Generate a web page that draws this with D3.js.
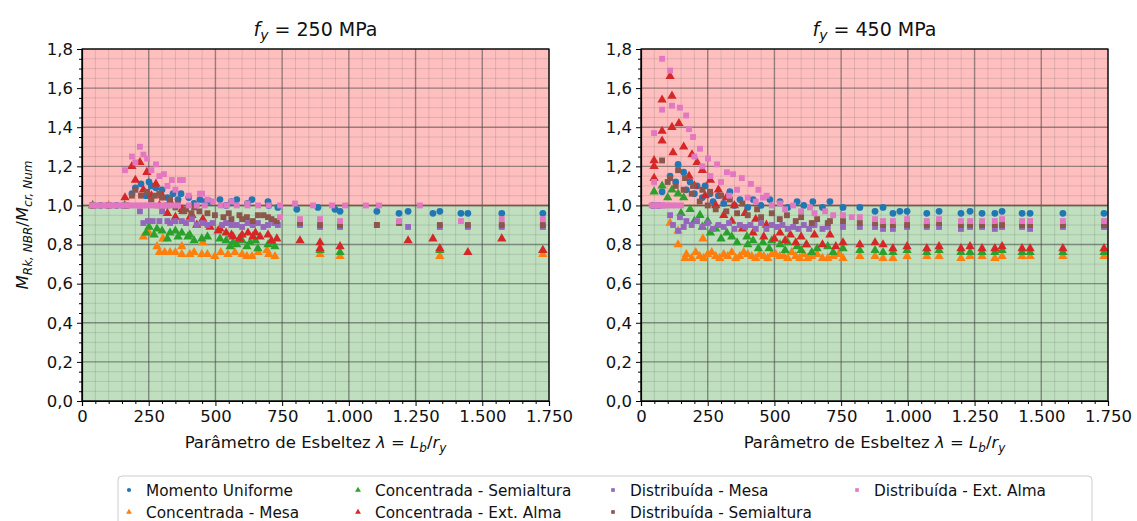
<!DOCTYPE html>
<html>
<head>
<meta charset="utf-8">
<script src="https://cdn.jsdelivr.net/npm/d3@7"></script>
<style>
  body { margin: 0; background: #fff; }
  svg { font-family: "DejaVu Sans", sans-serif; }
</style>
</head>
<body>
<div id="viz"></div>
<script>
const width = 1137;
const height = 521;
const yTop = 49, yBottom = 401;
const panels = [
  {x0: 82, x1: 549, title: '250'},
  {x0: 641, x1: 1108, title: '450'}
];

const xTicks = [0, 250, 500, 750, 1000, 1250, 1500, 1750];
const yTicks = [0, 0.2, 0.4, 0.6, 0.8, 1.0, 1.2, 1.4, 1.6, 1.8];

const seriesNames = ['Momento Uniforme', 'Concentrada - Mesa', 'Concentrada - Semialtura',
  'Concentrada - Ext. Alma', 'Distribuída - Mesa', 'Distribuída - Semialtura', 'Distribuída - Ext. Alma'];
const seriesColors = ['#1f77b4', '#ff7f0e', '#2ca02c', '#d62728', '#9467bd', '#8c564b', '#e377c2'];
const seriesShapes = ['circle', 'triangle', 'triangle', 'triangle', 'square', 'square', 'square'];

// fy = 250 MPa
const momento250 = [[40,1.0],[70,1.0],[100,1.0],[130,1.0],[160,1.0],[187,1.06],[200,1.09],[221,1.11],[240,1.05],[251,1.12],[260,1.10],[277,1.09],[300,1.08],[320,1.04],[341,1.06],[360,1.03],[371,1.06],[400,1.04],[420,1.01],[442,1.03],[460,1.02],[480,1.02],[517,1.03],[540,1.0],[560,1.02],[580,1.03],[620,1.01],[637,1.03],[697,1.02],[700,1.0],[734,0.99],[805,0.98],[884,0.99],[948,0.98],[967,0.97],[1105,0.97],[1188,0.96],[1222,0.97],[1315,0.96],[1341,0.97],[1420,0.96],[1446,0.96],[1573,0.96],[1727,0.96]];
const concMesa250 = [[40,1.0],[100,1.0],[160,1.0],[230,0.84],[251,0.86],[281,0.79],[290,0.76],[303,0.83],[310,0.76],[330,0.76],[350,0.76],[374,0.79],[374,0.75],[404,0.75],[420,0.76],[449,0.75],[453,0.81],[470,0.75],[498,0.74],[520,0.76],[547,0.75],[573,0.76],[600,0.75],[618,0.74],[637,0.74],[660,0.76],[693,0.77],[700,0.75],[723,0.74],[892,0.75],[967,0.74],[1341,0.74],[1727,0.75]];
const concSemi250 = [[40,1.0],[160,1.0],[240,0.86],[251,0.89],[270,0.85],[281,0.88],[300,0.87],[320,0.83],[330,0.86],[350,0.87],[360,0.84],[374,0.86],[397,0.84],[404,0.85],[420,0.82],[449,0.83],[470,0.84],[517,0.83],[540,0.82],[555,0.79],[566,0.81],[580,0.80],[600,0.82],[618,0.79],[630,0.81],[650,0.82],[659,0.78],[697,0.80],[710,0.81],[723,0.79],[892,0.77],[967,0.76],[1341,0.77],[1727,0.77]];
const concAlma250 = [[161,1.04],[187,1.20],[200,1.13],[217,1.22],[230,1.08],[243,1.17],[260,1.05],[277,1.11],[290,1.00],[300,1.05],[320,0.96],[330,1.02],[350,0.94],[375,0.98],[378,0.97],[405,0.94],[412,0.95],[430,0.90],[453,0.93],[480,0.89],[510,0.87],[517,0.88],[540,0.86],[560,0.85],[566,0.84],[590,0.83],[600,0.85],[622,0.86],[640,0.84],[650,0.86],[667,0.84],[697,0.85],[710,0.82],[730,0.83],[817,0.82],[892,0.81],[892,0.78],[967,0.79],[1222,0.82],[1315,0.83],[1341,0.78],[1446,0.76],[1573,0.83],[1727,0.77]];
const distMesa250 = [[40,1.0],[100,1.0],[160,1.0],[217,0.97],[230,0.91],[247,0.92],[265,0.92],[290,0.92],[300,0.97],[320,0.92],[330,0.91],[350,0.92],[374,0.92],[390,0.91],[412,0.93],[430,0.90],[453,0.91],[470,0.90],[490,0.91],[525,0.90],[540,0.91],[560,0.90],[580,0.90],[600,0.89],[620,0.91],[640,0.90],[659,0.91],[680,0.89],[697,0.90],[720,0.91],[734,0.90],[817,0.90],[892,0.89],[967,0.89],[1105,0.90],[1222,0.89],[1341,0.89],[1446,0.89],[1573,0.89],[1727,0.89]];
const distSemi250 = [[40,1.0],[100,1.0],[170,1.0],[187,1.05],[200,1.08],[221,1.05],[244,1.07],[260,1.03],[273,1.05],[290,1.06],[300,1.04],[320,1.00],[330,1.03],[350,0.99],[360,1.01],[380,0.97],[390,0.98],[410,0.96],[420,0.99],[440,0.97],[470,0.96],[498,0.95],[530,0.94],[550,0.96],[560,0.93],[590,0.95],[600,0.93],[618,0.94],[640,0.92],[659,0.95],[680,0.95],[697,0.94],[710,0.93],[730,0.92],[817,0.91],[892,0.90],[967,0.90],[1105,0.90],[1188,0.91],[1341,0.90],[1446,0.90],[1573,0.90],[1727,0.90]];
const distAlma250 = [[37,1.0],[50,1.0],[65,1.0],[80,1.0],[95,1.0],[110,1.0],[125,1.0],[140,1.0],[155,1.0],[170,1.0],[185,1.0],[200,1.0],[215,1.0],[230,1.0],[245,1.0],[260,1.0],[280,1.0],[300,1.0],[320,1.0],[340,1.0],[360,1.0],[400,1.0],[430,1.0],[460,1.0],[491,1.02],[520,1.0],[543,1.0],[580,1.0],[620,1.0],[660,1.0],[700,1.0],[742,1.0],[798,1.01],[866,1.0],[937,1.0],[986,1.0],[1064,1.0],[1113,1.0],[1266,1.0],
  [161,1.18],[187,1.25],[200,1.22],[217,1.30],[230,1.26],[244,1.24],[260,1.18],[277,1.21],[290,1.15],[307,1.16],[320,1.10],[337,1.13],[350,1.08],[367,1.13],[378,1.13],[400,1.05],[442,1.06],[450,1.06],[470,1.03],[560,1.02],[620,1.01],
  [742,0.94],[817,0.93],[892,0.93],[967,0.92],[1188,0.92],[1420,0.92],[1573,0.93],[1727,0.93]];

// fy = 450 MPa
const momento450 = [[45,1.0],[65,1.0],[79,1.07],[109,1.15],[130,1.12],[139,1.21],[160,1.17],[170,1.08],[184,1.12],[200,1.06],[210,1.10],[230,1.04],[240,1.10],[259,1.06],[270,1.02],[290,1.05],[310,1.01],[333,1.07],[350,1.00],[371,1.03],[400,0.99],[420,1.03],[450,1.00],[483,1.03],[521,1.02],[550,0.99],[585,1.02],[610,1.0],[644,1.02],[680,0.99],[708,1.02],[757,0.99],[820,0.99],[877,0.97],[907,0.99],[944,0.96],[970,0.97],[997,0.97],[1071,0.96],[1117,0.97],[1199,0.96],[1233,0.97],[1278,0.96],[1326,0.96],[1353,0.97],[1428,0.96],[1458,0.96],[1581,0.96],[1735,0.96]];
const concMesa450 = [[109,0.91],[139,0.87],[139,0.80],[165,0.73],[170,0.75],[190,0.73],[205,0.76],[220,0.74],[232,0.83],[235,0.73],[250,0.75],[265,0.76],[280,0.74],[295,0.73],[310,0.75],[325,0.74],[340,0.76],[355,0.73],[370,0.74],[385,0.76],[400,0.75],[415,0.74],[430,0.73],[445,0.75],[460,0.74],[475,0.73],[490,0.75],[505,0.75],[520,0.74],[535,0.74],[550,0.73],[565,0.76],[580,0.74],[595,0.73],[610,0.75],[625,0.73],[640,0.74],[660,0.75],[680,0.73],[700,0.73],[720,0.74],[740,0.75],[757,0.73],[820,0.74],[877,0.74],[907,0.73],[944,0.73],[997,0.74],[1071,0.74],[1117,0.74],[1199,0.73],[1233,0.74],[1278,0.74],[1326,0.73],[1353,0.74],[1428,0.74],[1458,0.74],[1581,0.74],[1735,0.74]];
const concSemi450 = [[49,1.07],[79,1.10],[100,1.04],[116,1.08],[139,1.06],[150,0.96],[160,1.04],[184,0.98],[200,0.92],[221,0.95],[230,0.89],[250,0.92],[260,0.86],[280,0.88],[300,0.83],[322,0.86],[340,0.84],[360,0.81],[397,0.84],[400,0.80],[420,0.82],[440,0.78],[457,0.81],[480,0.78],[490,0.82],[521,0.80],[540,0.77],[550,0.81],[585,0.79],[600,0.77],[620,0.80],[640,0.76],[660,0.78],[700,0.79],[720,0.76],[757,0.78],[820,0.77],[877,0.77],[907,0.76],[944,0.76],[997,0.77],[1071,0.76],[1117,0.77],[1199,0.76],[1233,0.76],[1278,0.76],[1326,0.76],[1353,0.77],[1428,0.76],[1458,0.76],[1581,0.76],[1735,0.76]];
const concAlma450 = [[49,1.23],[49,1.20],[49,1.14],[79,1.54],[79,1.38],[79,1.33],[109,1.66],[116,1.56],[116,1.40],[120,1.27],[142,1.42],[160,1.30],[180,1.15],[191,1.26],[200,1.10],[210,1.22],[230,1.18],[240,1.05],[260,1.13],[280,1.00],[290,1.08],[310,0.95],[320,1.04],[340,0.92],[350,1.00],[380,0.88],[390,0.96],[420,0.86],[430,0.93],[460,0.84],[470,0.90],[500,0.83],[521,0.86],[540,0.82],[560,0.85],[580,0.81],[600,0.84],[620,0.80],[650,0.85],[680,0.80],[708,0.85],[730,0.79],[757,0.81],[820,0.80],[877,0.81],[907,0.80],[944,0.78],[997,0.79],[1071,0.78],[1117,0.79],[1199,0.78],[1233,0.79],[1278,0.78],[1326,0.78],[1353,0.79],[1428,0.78],[1458,0.78],[1581,0.78],[1735,0.78]];
const distMesa450 = [[49,1.0],[79,1.0],[109,0.95],[120,0.90],[139,0.87],[146,0.94],[160,0.89],[170,0.92],[190,0.90],[210,0.92],[230,0.89],[250,0.91],[270,0.88],[290,0.90],[310,0.89],[330,0.91],[350,0.88],[370,0.90],[390,0.89],[410,0.90],[430,0.88],[450,0.91],[470,0.88],[490,0.90],[510,0.89],[530,0.90],[550,0.88],[570,0.89],[590,0.88],[610,0.90],[630,0.88],[650,0.90],[680,0.88],[700,0.89],[757,0.89],[820,0.89],[877,0.89],[907,0.88],[944,0.88],[997,0.89],[1071,0.89],[1117,0.89],[1199,0.88],[1233,0.89],[1278,0.89],[1326,0.88],[1353,0.89],[1428,0.89],[1458,0.88],[1581,0.89],[1735,0.89]];
const distSemi450 = [[79,1.23],[100,1.12],[109,1.14],[130,1.10],[139,1.18],[160,1.08],[165,1.14],[190,1.06],[195,1.10],[220,1.02],[230,1.08],[250,1.00],[259,1.07],[280,0.98],[300,1.05],[320,0.97],[333,1.03],[360,0.96],[380,1.01],[400,0.95],[435,0.98],[450,0.94],[490,0.96],[520,0.93],[547,0.95],[580,0.92],[600,0.94],[640,0.91],[660,0.93],[700,0.91],[708,0.92],[757,0.92],[820,0.91],[877,0.91],[907,0.90],[944,0.90],[997,0.90],[1071,0.90],[1117,0.91],[1199,0.90],[1233,0.90],[1278,0.90],[1326,0.90],[1353,0.90],[1428,0.90],[1458,0.90],[1581,0.90],[1735,0.90]];
const distAlma450 = [[40,1.0],[55,1.0],[60,1.0],[70,1.0],[85,1.0],[100,1.0],[115,1.0],[130,1.0],[150,1.0],[49,1.37],[49,1.12],[79,1.75],[79,1.49],[109,1.69],[116,1.51],[146,1.50],[169,1.46],[180,1.39],[195,1.35],[200,1.25],[221,1.29],[230,1.20],[251,1.24],[260,1.15],[285,1.21],[300,1.12],[322,1.17],[330,1.05],[345,1.16],[360,1.08],[378,1.14],[400,1.04],[412,1.11],[430,1.02],[440,1.08],[457,1.04],[471,1.05],[490,1.00],[521,1.01],[540,0.98],[570,1.0],[600,0.97],[633,0.99],[650,0.96],[690,0.97],[720,0.95],[757,0.95],[790,0.94],[820,0.94],[877,0.93],[907,0.92],[944,0.92],[997,0.93],[1071,0.92],[1117,0.93],[1199,0.92],[1233,0.92],[1278,0.92],[1326,0.92],[1353,0.93],[1428,0.92],[1458,0.92],[1581,0.92],[1735,0.92]];

const panelData = [
  [momento250, concMesa250, concSemi250, concAlma250, distMesa250, distSemi250, distAlma250],
  [momento450, concMesa450, concSemi450, concAlma450, distMesa450, distSemi450, distAlma450]
];

const locale = d3.formatLocale({decimal: ',', thousands: '.', grouping: [3], currency: ['', '']});
const fmtX = locale.format(',d');
const fmtY = locale.format('.1f');

const svg = d3.select('#viz').append('svg')
  .attr('width', width)
  .attr('height', height);

function markerPath(shape, size) {
  if (shape === 'triangle') return d3.symbol(d3.symbolTriangle, size * 1.05)();
  if (shape === 'square') return d3.symbol(d3.symbolSquare, size * 0.95)();
  return d3.symbol(d3.symbolCircle, size)();
}

panels.forEach((p, pi) => {
  const x = d3.scaleLinear().domain([0, 1750]).range([p.x0, p.x1]);
  const y = d3.scaleLinear().domain([0, 1.8]).range([yBottom, yTop]);
  const g = svg.append('g');

  // zones
  g.append('rect').attr('x', p.x0).attr('y', y(1.8))
    .attr('width', p.x1 - p.x0).attr('height', y(1.0) - y(1.8))
    .attr('fill', '#ff0000').attr('fill-opacity', 0.25);
  g.append('rect').attr('x', p.x0).attr('y', y(1.0))
    .attr('width', p.x1 - p.x0).attr('height', y(0) - y(1.0))
    .attr('fill', '#008000').attr('fill-opacity', 0.25);

  // minor grid
  const xMinor = d3.range(50, 1750, 50).filter(v => v % 250 !== 0);
  const yMinor = d3.range(1, 36).map(i => i * 0.05).filter(v => Math.abs(v * 5 - Math.round(v * 5)) > 1e-6);
  g.append('g').selectAll('line').data(xMinor).join('line')
    .attr('x1', d => x(d)).attr('x2', d => x(d)).attr('y1', yTop).attr('y2', yBottom)
    .attr('stroke', '#555').attr('stroke-opacity', 0.2).attr('stroke-width', 0.9);
  g.append('g').selectAll('line').data(yMinor).join('line')
    .attr('y1', d => y(d)).attr('y2', d => y(d)).attr('x1', p.x0).attr('x2', p.x1)
    .attr('stroke', '#555').attr('stroke-opacity', 0.2).attr('stroke-width', 0.9);
  // major grid
  g.append('g').selectAll('line').data(xTicks).join('line')
    .attr('x1', d => x(d)).attr('x2', d => x(d)).attr('y1', yTop).attr('y2', yBottom)
    .attr('stroke', '#444').attr('stroke-opacity', 0.55).attr('stroke-width', 1.4);
  g.append('g').selectAll('line').data(yTicks).join('line')
    .attr('y1', d => y(d)).attr('y2', d => y(d)).attr('x1', p.x0).attr('x2', p.x1)
    .attr('stroke', '#444').attr('stroke-opacity', 0.55).attr('stroke-width', 1.4);
  g.append('line').attr('x1', p.x0).attr('x2', p.x1).attr('y1', y(1.0)).attr('y2', y(1.0))
    .attr('stroke', '#7a5a3a').attr('stroke-width', 1.6);

  // points
  panelData[pi].forEach((arr, si) => {
    g.append('g').selectAll('path').data(arr).join('path')
      .attr('d', markerPath(seriesShapes[si], 36))
      .attr('transform', d => `translate(${x(d[0])},${y(d[1])})`)
      .attr('fill', seriesColors[si]);
  });

  // frame
  g.append('rect').attr('x', p.x0).attr('y', yTop)
    .attr('width', p.x1 - p.x0).attr('height', yBottom - yTop)
    .attr('fill', 'none').attr('stroke', '#000').attr('stroke-width', 1.2);

  // axes
  const xAxis = g.append('g').attr('transform', `translate(0,${yBottom})`)
    .call(d3.axisBottom(x).tickValues(xTicks).tickFormat(fmtX).tickSize(5).tickPadding(4));
  g.append('g').attr('transform', `translate(0,${yBottom})`)
    .call(d3.axisBottom(x).tickValues(xMinor).tickFormat('').tickSize(3))
    .call(a => a.select('.domain').remove());
  const yAxis = g.append('g').attr('transform', `translate(${p.x0},0)`)
    .call(d3.axisLeft(y).tickValues(yTicks).tickFormat(fmtY).tickSize(5).tickPadding(4));
  g.append('g').attr('transform', `translate(${p.x0},0)`)
    .call(d3.axisLeft(y).tickValues(yMinor).tickFormat('').tickSize(3))
    .call(a => a.select('.domain').remove());
  [xAxis, yAxis].forEach(a => {
    a.selectAll('text').attr('font-size', 16.5).attr('fill', '#111')
      .attr('font-family', '"DejaVu Sans", sans-serif');
    a.select('.domain').attr('stroke-width', 1.2);
  });

  // title
  const t = svg.append('text')
    .attr('x', (p.x0 + p.x1) / 2).attr('y', 36)
    .attr('text-anchor', 'middle').attr('font-size', 19).attr('fill', '#111');
  t.append('tspan').attr('font-style', 'italic').text('f');
  t.append('tspan').attr('font-style', 'italic').attr('font-size', 14).attr('dy', 4).text('y');
  t.append('tspan').attr('dy', -4).text(' = ' + p.title + ' MPa');

  // x label
  const xl = svg.append('text')
    .attr('x', (p.x0 + p.x1) / 2).attr('y', 448)
    .attr('text-anchor', 'middle').attr('font-size', 16.5).attr('fill', '#111');
  xl.append('tspan').text('Parâmetro de Esbeltez ');
  xl.append('tspan').attr('font-style', 'italic').text('λ');
  xl.append('tspan').text(' = ');
  xl.append('tspan').attr('font-style', 'italic').text('L');
  xl.append('tspan').attr('font-style', 'italic').attr('font-size', 12).attr('dy', 4).text('b');
  xl.append('tspan').attr('dy', -4).text('/');
  xl.append('tspan').attr('font-style', 'italic').text('r');
  xl.append('tspan').attr('font-style', 'italic').attr('font-size', 12).attr('dy', 4).text('y');
});

// y label
const yl = svg.append('text')
  .attr('transform', 'translate(28,225) rotate(-90)')
  .attr('text-anchor', 'middle').attr('font-size', 16.5).attr('fill', '#111');
yl.append('tspan').attr('font-style', 'italic').text('M');
yl.append('tspan').attr('font-style', 'italic').attr('font-size', 12).attr('dy', 4).text('Rk, NBR');
yl.append('tspan').attr('dy', -4).text('/');
yl.append('tspan').attr('font-style', 'italic').text('M');
yl.append('tspan').attr('font-style', 'italic').attr('font-size', 12).attr('dy', 4).text('cr, Num');

// legend
const legend = svg.append('g');
legend.append('rect').attr('x', 118).attr('y', 476).attr('width', 974).attr('height', 60)
  .attr('rx', 4).attr('fill', '#fff').attr('stroke', '#ccc').attr('stroke-width', 1);
const colText = [146, 375, 630, 874];
const rowY = [490, 512];
seriesNames.forEach((name, i) => {
  const col = Math.floor(i / 2), row = i % 2;
  const lg = legend.append('g').attr('transform', `translate(${colText[col]},${rowY[row]})`);
  lg.append('path').attr('d', markerPath(seriesShapes[i], 14))
    .attr('transform', 'translate(-17,0)').attr('fill', seriesColors[i]);
  lg.append('text').attr('x', 0).attr('y', 5.5).attr('font-size', 15.3).attr('fill', '#111').text(name);
});
</script>
</body>
</html>
